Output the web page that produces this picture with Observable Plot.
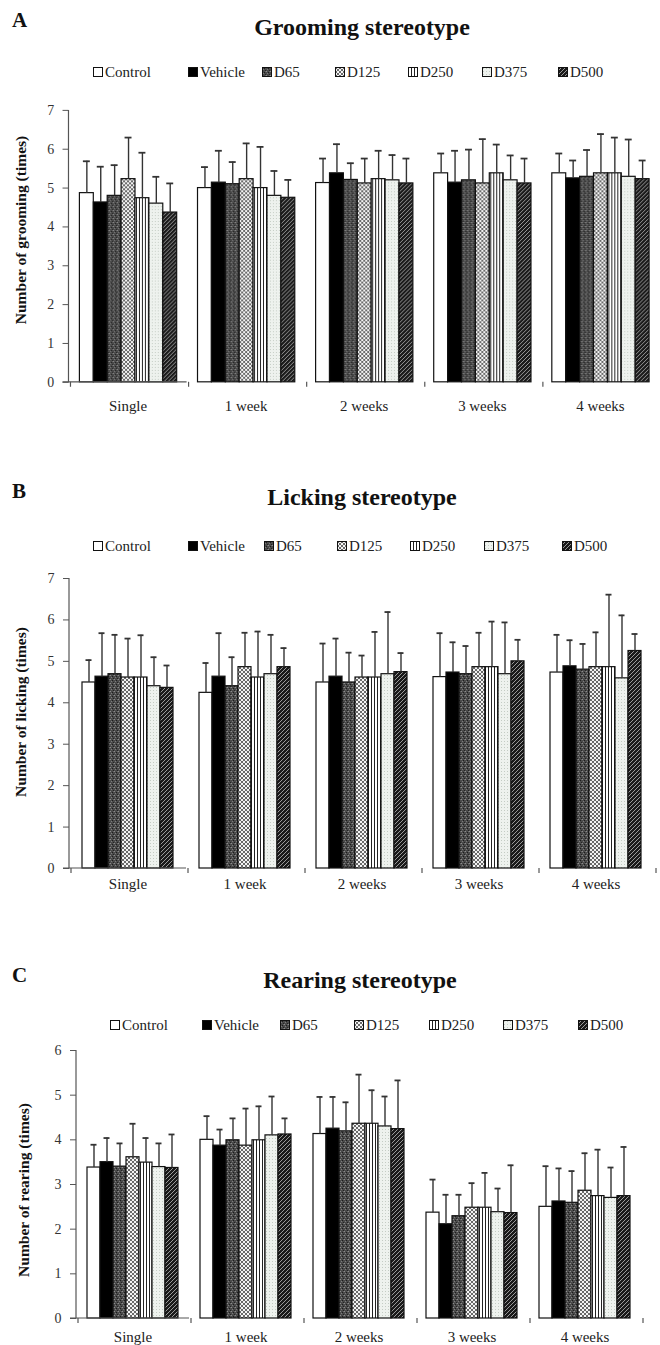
<!DOCTYPE html>
<html><head><meta charset="utf-8">
<script src="https://cdn.jsdelivr.net/npm/d3@7"></script>
<script src="https://cdn.jsdelivr.net/npm/@observablehq/plot@0.6"></script>
<style>
html,body{margin:0;padding:0;background:#fff;overflow:hidden;width:660px;height:1345px;}
#root{position:relative;width:660px;height:1345px;font-family:"Liberation Serif","Times New Roman",serif;color:#111;}
#root svg, #root svg text{font-family:"Liberation Serif","Times New Roman",serif !important;}
.abs{position:absolute;}
.letter{font-weight:bold;font-size:21px;line-height:24px;}
.title{font-weight:bold;font-size:24px;line-height:28px;transform:translateX(-50%);white-space:nowrap;}
.ylab{font-weight:bold;font-size:15.5px;line-height:18px;white-space:nowrap;transform:translate(-50%,-50%) rotate(-90deg);}
.legitem{position:absolute;display:flex;align-items:center;font-size:15px;line-height:18px;white-space:nowrap;color:#222;}
.legitem svg{margin-right:1px;}
</style></head><body>
<svg width="0" height="0" style="position:absolute">
<defs>
<pattern id="pD65" width="4" height="4" patternUnits="userSpaceOnUse">
<rect width="4" height="4" fill="#4a4a4a"/><rect x="0" y="0" width="1" height="1" fill="#8c8c8c"/><rect x="2" y="1" width="1" height="1" fill="#1c1c1c"/><rect x="1" y="2" width="1" height="1" fill="#7c7c7c"/><rect x="3" y="3" width="1" height="1" fill="#222"/><rect x="3" y="0" width="1" height="1" fill="#666"/>
</pattern>
<pattern id="pD125" width="4" height="4" patternUnits="userSpaceOnUse">
<rect width="4" height="4" fill="#f4f4f4"/><rect width="2" height="2" fill="#6a6a6a"/><rect x="2" y="2" width="2" height="2" fill="#6a6a6a"/>
</pattern>
<pattern id="pD250" width="3" height="3" patternUnits="userSpaceOnUse">
<rect width="3" height="3" fill="#fff"/><rect width="1" height="3" fill="#222"/>
</pattern>
<pattern id="pD375" width="3" height="3" patternUnits="userSpaceOnUse">
<rect width="3" height="3" fill="#eef2ee"/><rect x="1" y="1" width="1" height="1" fill="#c4ccc4"/>
</pattern>
<pattern id="pD500" width="4" height="4" patternUnits="userSpaceOnUse">
<rect width="4" height="4" fill="#1a1a1a"/><path d="M-1,5L5,-1" stroke="#9a9a9a" stroke-width="1"/>
</pattern>
</defs>
</svg>
<div id="root"></div>
<script>
// ---------- data ----------
const groups = ["Single", "1 week", "2 weeks", "3 weeks", "4 weeks"];
const treatments = ["Control", "Vehicle", "D65", "D125", "D250", "D375", "D500"];
const fills = ["#ffffff", "#000000", "url(#pD65)", "url(#pD125)", "url(#pD250)", "url(#pD375)", "url(#pD500)"];

// rows = groups, columns = treatments
const groomingMean = [
  [4.87, 4.63, 4.80, 5.23, 4.74, 4.60, 4.37],
  [5.00, 5.14, 5.10, 5.23, 5.00, 4.80, 4.75],
  [5.13, 5.38, 5.21, 5.12, 5.23, 5.20, 5.12],
  [5.38, 5.14, 5.20, 5.12, 5.38, 5.20, 5.12],
  [5.38, 5.25, 5.29, 5.38, 5.38, 5.29, 5.23]
];
const groomingSD = [
  [0.82, 0.92, 0.79, 1.07, 1.17, 0.69, 0.75],
  [0.54, 0.82, 0.57, 0.92, 1.06, 0.64, 0.46],
  [0.63, 0.75, 0.43, 0.64, 0.73, 0.65, 0.64],
  [0.51, 0.82, 0.79, 1.14, 0.74, 0.64, 0.64],
  [0.51, 0.46, 0.69, 1.01, 0.92, 0.96, 0.48]
];
const lickingMean = [
  [4.49, 4.63, 4.69, 4.61, 4.61, 4.40, 4.36],
  [4.24, 4.63, 4.40, 4.86, 4.61, 4.69, 4.86],
  [4.49, 4.63, 4.49, 4.61, 4.61, 4.69, 4.74],
  [4.62, 4.73, 4.69, 4.86, 4.86, 4.69, 5.00],
  [4.73, 4.88, 4.80, 4.86, 4.86, 4.59, 5.25]
];
const lickingSD = [
  [0.54, 1.05, 0.95, 0.94, 1.02, 0.70, 0.54],
  [0.72, 1.05, 0.70, 0.83, 1.11, 0.95, 0.46],
  [0.94, 0.92, 0.72, 0.53, 1.10, 1.50, 0.46],
  [1.06, 0.73, 0.68, 0.83, 1.10, 1.25, 0.52],
  [0.91, 0.63, 0.62, 0.84, 1.75, 1.52, 0.41]
];
const rearingMean = [
  [3.38, 3.50, 3.40, 3.61, 3.49, 3.39, 3.37],
  [4.00, 3.87, 3.99, 3.87, 3.99, 4.10, 4.12],
  [4.13, 4.25, 4.19, 4.36, 4.36, 4.30, 4.24],
  [2.37, 2.11, 2.29, 2.48, 2.48, 2.38, 2.36],
  [2.50, 2.62, 2.59, 2.86, 2.74, 2.70, 2.74]
];
const rearingSD = [
  [0.51, 0.54, 0.52, 0.75, 0.55, 0.53, 0.75],
  [0.53, 0.36, 0.49, 0.83, 0.76, 0.87, 0.36],
  [0.83, 0.71, 0.65, 1.10, 0.75, 0.67, 1.09],
  [0.74, 0.66, 0.48, 0.55, 0.78, 0.53, 1.07],
  [0.91, 0.74, 0.71, 0.84, 1.04, 0.68, 1.10]
];
const yTicksA = [0, 1, 2, 3, 4, 5, 6, 7];
const yTicksB = [0, 1, 2, 3, 4, 5, 6, 7];
const yTicksC = [0, 1, 2, 3, 4, 5, 6];

// ---------- layout ----------
const panels = [
  {letter: "A", title: "Grooming stereotype", ylabel: "Number of grooming (times)",
   mean: groomingMean, sd: groomingSD, ticks: yTicksA,
   letterTop: 8, titleTop: 13, titleX: 362, legendTop: 63, legendX: [93, 188, 262, 335, 408, 482, 558],
   svgTop: 95, width: 665, ml: 67, mt: 15, plotH: 274, mb: 40, xpad: 18, ylabX: 21, ylabY: 230},
  {letter: "B", title: "Licking stereotype", ylabel: "Number of licking (times)",
   mean: lickingMean, sd: lickingSD, ticks: yTicksB,
   letterTop: 479, titleTop: 483, titleX: 362, legendTop: 537, legendX: [93, 188, 264, 337, 410, 484, 562],
   svgTop: 563, width: 655, ml: 67, mt: 15, plotH: 290, mb: 40, xpad: 10, ylabX: 21, ylabY: 712},
  {letter: "C", title: "Rearing stereotype", ylabel: "Number of rearing (times)",
   mean: rearingMean, sd: rearingSD, ticks: yTicksC,
   letterTop: 963, titleTop: 966, titleX: 360, legendTop: 1016, legendX: [110, 202, 280, 354, 429, 503, 578],
   svgTop: 1035, width: 643, ml: 74, mt: 15, plotH: 268, mb: 27, xpad: 13, ylabX: 24, ylabY: 1190}
];

const root = document.getElementById("root");

function div(cls, text, css) {
  const d = document.createElement("div");
  d.className = cls;
  if (text != null) d.textContent = text;
  Object.assign(d.style, css);
  root.appendChild(d);
  return d;
}

for (const p of panels) {
  div("abs letter", p.letter, {left: "12px", top: p.letterTop + "px"});
  div("abs title", p.title, {left: p.titleX + "px", top: p.titleTop + "px"});
  treatments.forEach((t, j) => {
    const it = div("legitem", null, {left: p.legendX[j] + "px", top: p.legendTop + "px"});
    it.innerHTML = `<svg width="11" height="11"><rect x="0.5" y="0.5" width="9" height="9" fill="${fills[j]}" stroke="#111" stroke-width="1"/></svg><span>${t}</span>`;
  });

  const data = [];
  groups.forEach((g, i) => treatments.forEach((t, j) => data.push({group: g, treatment: t, mean: p.mean[i][j], sd: p.sd[i][j]})));
  const yMax = p.ticks[p.ticks.length - 1];

  // axis lines and group-boundary ticks; drawn once (first facet has no offset)
  let drawn = false;
  const axisLines = (index, scales, values, dims) => {
    if (drawn) return null;
    drawn = true;
    const y = scales.y;
    let fx = scales.fx;
    const left = dims.marginLeft, right = dims.width - dims.marginRight;
    if (!fx) fx = d3.scaleBand(groups, [left, right]);
    const y0 = y(0), yTop = y(yMax);
    const g = d3.create("svg:g").attr("stroke", "#555").attr("stroke-width", 1.2).attr("fill", "none");
    g.append("line").attr("x1", left).attr("x2", left).attr("y1", y0 + 0.5).attr("y2", yTop);
    g.append("line").attr("x1", left - 6).attr("x2", right).attr("y1", y0).attr("y2", y0);
    const bounds = groups.map(gr => fx(gr)).concat([fx(groups[groups.length - 1]) + fx.bandwidth()]);
    for (const b of bounds) {
      g.append("line").attr("x1", b).attr("x2", b).attr("y1", y0).attr("y2", y0 + 5);
    }
    return g.node();
  };

  const chart = Plot.plot({
    width: p.width,
    height: p.mt + p.plotH + p.mb,
    marginLeft: p.ml, marginRight: 0, marginTop: p.mt, marginBottom: p.mb,
    style: {fontFamily: "'Liberation Serif', 'Times New Roman', serif", fontSize: "14px", color: "#222", background: "transparent", overflow: "visible"},
    fx: {domain: groups, padding: 0, label: null},
    x: {domain: treatments, paddingInner: 0, paddingOuter: 0.7, axis: null, label: null},
    y: {domain: [0, yMax], label: null},
    color: {type: "ordinal", domain: treatments, range: fills},
    marks: [
      Plot.barY(data, {fx: "group", x: "treatment", y: "mean", fill: "treatment", stroke: "#111", strokeWidth: 1.2}),
      Plot.ruleX(data, {fx: "group", x: "treatment", y1: "mean", y2: d => d.mean + d.sd, stroke: "#333", strokeWidth: 1.4}),
      Plot.tickY(data, {fx: "group", x: "treatment", y: d => d.mean + d.sd, stroke: "#333", strokeWidth: 1.8, insetLeft: 3.5, insetRight: 3.5}),
      Plot.axisY({ticks: p.ticks, tickSize: 6, tickPadding: 9, tickFormat: d3.format("d"), stroke: "#555", label: null, fill: "#333"}),
      Plot.axisFx({anchor: "bottom", tickSize: 0, tickPadding: p.xpad, fontSize: 15, label: null, fill: "#222"}),
      axisLines
    ]
  });
  chart.style.position = "absolute";
  chart.style.left = "0px";
  chart.style.top = p.svgTop + "px";
  root.appendChild(chart);

  div("abs ylab", p.ylabel, {left: p.ylabX + "px", top: p.ylabY + "px"});
}
</script>
</body></html>
